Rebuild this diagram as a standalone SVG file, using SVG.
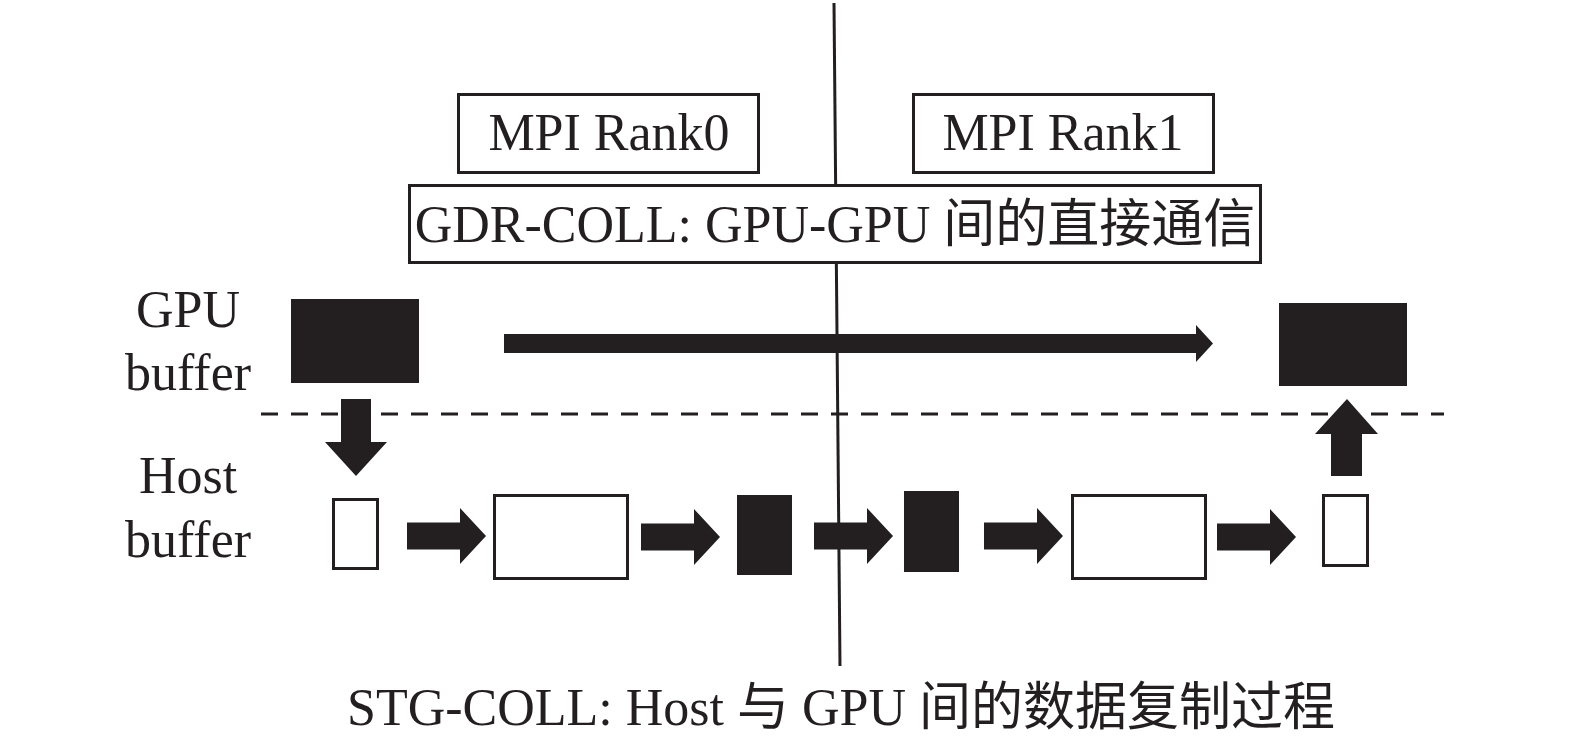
<svg xmlns="http://www.w3.org/2000/svg" width="1575" height="746" viewBox="0 0 1575 746">
<style>
.t{font-family:"Liberation Serif","Noto Sans CJK SC",serif;font-size:52px;fill:#231f20;text-anchor:middle}
.box{fill:#fff;stroke:#231f20;stroke-width:3}
.fill{fill:#231f20}
.conn{fill:#231f20}
</style>
<defs>
<path id="ra" d="M0,-13.5 H53 V-28 L79,0 L53,28 V13.5 H0 Z"/>
</defs>
<rect width="1575" height="746" fill="#fff"/>
<g id="divider">
<line x1="834" y1="3" x2="840" y2="666" stroke="#231f20" stroke-width="3"/>
<line x1="261" y1="414" x2="1444" y2="414" stroke="#231f20" stroke-width="3" stroke-dasharray="17 13"/>
</g>
<g id="rank0"><rect class="box" x="458.5" y="94.5" width="300" height="78"/><text class="t" x="609" y="150">MPI Rank0</text></g>
<g id="rank1"><rect class="box" x="913.5" y="94.5" width="300" height="78"/><text class="t" x="1063" y="150">MPI Rank1</text></g>
<g id="gdr"><rect class="box" x="409.5" y="185.5" width="851" height="77"/><text class="t" x="835" y="242">GDR-COLL: GPU-GPU 间的直接通信</text></g>
<g id="labels">
<text class="t" x="188" y="327">GPU</text>
<text class="t" x="188" y="390">buffer</text>
<text class="t" x="188" y="493">Host</text>
<text class="t" x="188" y="557">buffer</text>
</g>
<g id="gpu0"><rect class="fill" x="291" y="299" width="128" height="84"/></g>
<g id="gpu1"><rect class="fill" x="1279" y="303" width="128" height="83"/></g>
<g id="host0a"><rect class="box" x="333.5" y="499.5" width="44" height="69"/></g>
<g id="host0b"><rect class="box" x="494.5" y="495.5" width="133" height="83"/></g>
<g id="host0c"><rect class="fill" x="737" y="495" width="55" height="80"/></g>
<g id="host1c"><rect class="fill" x="904" y="491" width="55" height="81"/></g>
<g id="host1b"><rect class="box" x="1072.5" y="495.5" width="133" height="83"/></g>
<g id="host1a"><rect class="box" x="1323.5" y="495.5" width="44" height="70"/></g>
<g id="connectors" class="conn">
<path d="M504,334 H1196 V325 L1213,343.5 L1196,362 V353 H504 Z"/>
<path d="M341,399 H371 V442 H387 L356,476 L325,442 H341 Z"/>
<path d="M1331,476 H1362 V434 H1378 L1347,399 L1315,434 H1331 Z"/>
<use href="#ra" x="407" y="536"/>
<use href="#ra" x="641" y="537"/>
<use href="#ra" x="814" y="536"/>
<use href="#ra" x="984" y="536"/>
<use href="#ra" x="1217" y="537"/>
</g>
<text class="t" x="841" y="725">STG-COLL: Host 与 GPU 间的数据复制过程</text>
</svg>
